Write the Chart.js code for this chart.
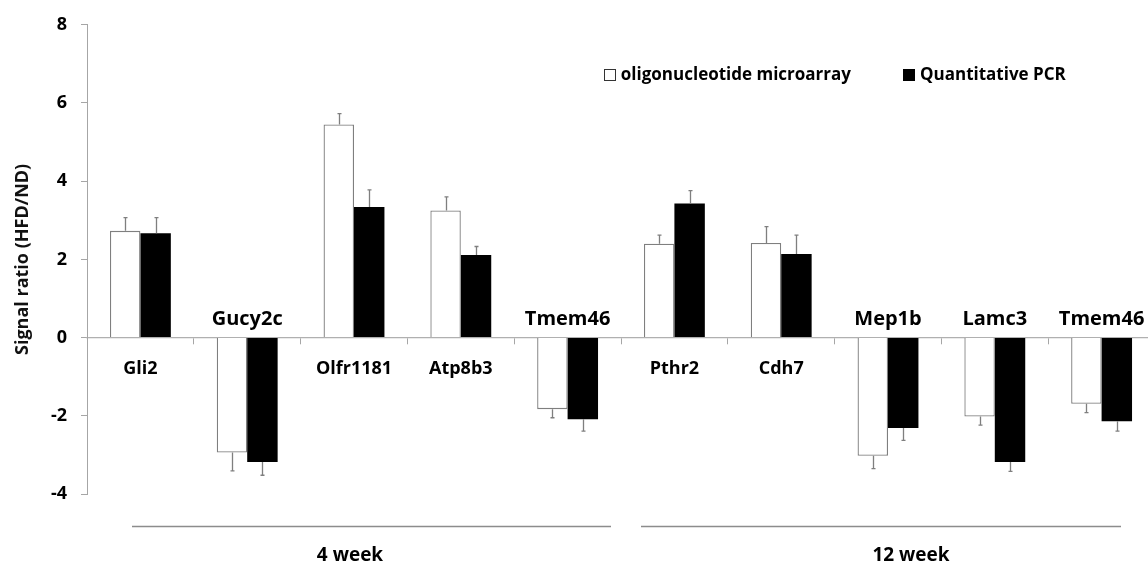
<!DOCTYPE html>
<html>
<head>
<meta charset="utf-8">
<script src="https://cdn.jsdelivr.net/npm/chart.js@4"></script>
<style>
    body { margin: 0; background: #fff; }
    #frame { width: 1148px; height: 564px; overflow: hidden; }
    #wrap { width: 1156px; height: 564px; }
</style>
</head>
<body>
<div id="frame"><div id="wrap"><canvas id="ratioChart"></canvas></div></div>
<script>
// genes, in plot order (first five: 4 week, last five: 12 week)
const genes = ['Gli2', 'Gucy2c', 'Olfr1181', 'Atp8b3', 'Tmem46', 'Pthr2', 'Cdh7', 'Mep1b', 'Lamc3', 'Tmem46'];

// signal ratio HFD/ND
const microarray = [2.73, -2.94, 5.45, 3.25, -1.83, 2.40, 2.42, -3.02, -2.02, -1.69];
const qpcr = [2.67, -3.18, 3.34, 2.11, -2.09, 3.43, 2.14, -2.31, -3.18, -2.14];

// one-sided error bars (away from zero)
const microarrayErr = [0.34, 0.47, 0.28, 0.35, 0.22, 0.22, 0.42, 0.33, 0.22, 0.23];
const qpcrErr = [0.40, 0.34, 0.44, 0.22, 0.30, 0.33, 0.48, 0.32, 0.24, 0.25];

const yTicks = [-4, -2, 0, 2, 4, 6, 8];
const seriesNames = ['oligonucleotide microarray', 'Quantitative PCR'];
const groups = ['4 week', '12 week'];

const FONT = '"Open Sans", "Noto Sans", sans-serif';

const errorBars = {
    id: 'errorBars',
    afterDatasetsDraw(chart) {
        const ctx = chart.ctx;
        const yScale = chart.scales.y;
        const errs = [microarrayErr, qpcrErr];
        ctx.save();
        ctx.strokeStyle = '#7f7f7f';
        ctx.lineWidth = 1.3;
        chart.data.datasets.forEach((ds, i) => {
            chart.getDatasetMeta(i).data.forEach((bar, j) => {
                const v = ds.data[j];
                const end = yScale.getPixelForValue(v + Math.sign(v) * errs[i][j]);
                const x = Math.round(bar.x) + 0.5;
                ctx.beginPath();
                ctx.moveTo(x, bar.y);
                ctx.lineTo(x, end);
                ctx.moveTo(x - 2, end);
                ctx.lineTo(x + 2, end);
                ctx.stroke();
            });
        });
        ctx.restore();
    }
};

const annotations = {
    id: 'annotations',
    afterDraw(chart) {
        const ctx = chart.ctx;
        const xScale = chart.scales.x;
        const zero = chart.scales.y.getPixelForValue(0);
        ctx.save();
        ctx.fillStyle = '#000';

        // gene names: below zero for up-regulated, above for down-regulated
        ctx.textAlign = 'center';
        ctx.textBaseline = 'alphabetic';
        genes.forEach((g, i) => {
            const x = xScale.getPixelForValue(i);
            if (microarray[i] < 0) {
                ctx.font = 'bold 20px ' + FONT;
                ctx.fillText(g, x, zero - 13);
            } else {
                ctx.font = 'bold 18px ' + FONT;
                ctx.fillText(g, x, zero + 36);
            }
        });

        // legend
        ctx.font = 'bold 17px ' + FONT;
        ctx.textBaseline = 'middle';
        ctx.textAlign = 'left';
        const ly = 75;
        const box = 12;
        const w1 = ctx.measureText(seriesNames[0]).width;
        const t1 = 851 - w1;
        ctx.fillStyle = '#fff';
        ctx.strokeStyle = '#333';
        ctx.lineWidth = 1;
        ctx.fillRect(t1 - 5 - box, ly - box / 2, box, box);
        ctx.strokeRect(Math.round(t1 - 5 - box) + 0.5, ly - box / 2 + 0.5, box - 1, box - 1);
        ctx.fillStyle = '#000';
        ctx.fillText(seriesNames[0], t1, ly);
        ctx.fillRect(903, ly - box / 2, box, box);
        ctx.fillText(seriesNames[1], 920, ly);

        // group lines and labels
        ctx.strokeStyle = '#8c8c8c';
        ctx.lineWidth = 1.5;
        ctx.beginPath();
        ctx.moveTo(132, 526.5);
        ctx.lineTo(611, 526.5);
        ctx.moveTo(641, 526.5);
        ctx.lineTo(1121, 526.5);
        ctx.stroke();
        ctx.font = 'bold 19px ' + FONT;
        ctx.textAlign = 'center';
        ctx.textBaseline = 'alphabetic';
        ctx.fillText(groups[0], 350, 561);
        ctx.fillText(groups[1], 911, 561);
        ctx.restore();
    }
};

new Chart(document.getElementById('ratioChart'), {
    type: 'bar',
    data: {
        labels: genes,
        datasets: [
            {
                label: seriesNames[0],
                data: microarray,
                backgroundColor: '#ffffff',
                borderColor: '#7f7f7f',
                borderWidth: 1.3,
                categoryPercentage: 0.57,
                barPercentage: 1
            },
            {
                label: seriesNames[1],
                data: qpcr,
                backgroundColor: '#000000',
                borderColor: '#000000',
                borderWidth: 0,
                categoryPercentage: 0.57,
                barPercentage: 1
            }
        ]
    },
    options: {
        responsive: true,
        maintainAspectRatio: false,
        animation: false,
        layout: { padding: { top: 23, bottom: 70, left: 0, right: 1 } },
        plugins: {
            legend: { display: false },
            tooltip: { enabled: false }
        },
        scales: {
            x: {
                position: { y: 0 },
                ticks: { display: false },
                grid: { drawOnChartArea: false, tickLength: 6, color: '#a6a6a6', offset: true },
                border: { color: '#b0b0b0', width: 1.3 }
            },
            y: {
                min: -4,
                max: 8,
                afterBuildTicks: (axis) => { axis.ticks = yTicks.map(v => ({ value: v })); },
                afterFit: (axis) => { axis.width = 87; },
                ticks: {
                    color: '#000',
                    padding: 14,
                    font: { family: FONT, size: 18, weight: 'bold' }
                },
                grid: { drawOnChartArea: false, tickLength: 6, color: '#a6a6a6' },
                border: { color: '#a6a6a6' },
                title: {
                    display: true,
                    text: 'Signal ratio (HFD/ND)',
                    color: '#111',
                    padding: { top: 12, bottom: 0 },
                    font: { family: FONT, size: 18, weight: 'bold' }
                }
            }
        }
    },
    plugins: [errorBars, annotations]
});
</script>
</body>
</html>
